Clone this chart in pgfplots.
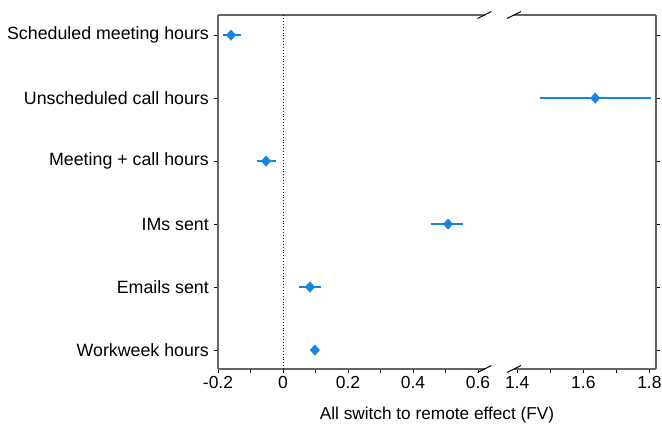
\documentclass[border=0pt]{standalone}
\usepackage{pgfplots}
\pgfplotsset{compat=1.18}
\usepackage{fontspec}
\setmainfont{Liberation Sans}
\definecolor{ptblue}{RGB}{18,134,226}
\definecolor{axgrey}{RGB}{100,100,100}
\begin{document}
\fontsize{17.3}{20}\selectfont
\begin{tikzpicture}
\pgfplotsset{
 common/.style={
  scale only axis, height=354bp, ymin=-0.3, ymax=5.32,
  tick align=outside, major tick length=4bp, minor tick length=4bp,
  every tick/.style={black, line width=0.8bp},
  axis line style={axgrey, line width=1.3bp},
  axis x line=box,
  ytick={0,...,5},
  xtick pos=bottom,
  /pgf/number format/assume math mode=true,
  /pgf/number format/fixed,
  tick label style={font=\fontsize{17.5}{20}\selectfont},
  xticklabel style={inner sep=2bp, yshift=-1.5bp},
  clip=false,
 },
 myplot/.style={
    only marks, mark=diamond*, mark size=5.2bp,
    mark options={fill=ptblue, draw=ptblue, xscale=1.2},
    /pgfplots/error bars/x dir=both,
    /pgfplots/error bars/x explicit,
    /pgfplots/error bars/error mark=none,
    /pgfplots/error bars/error bar style={line width=2bp, ptblue},
 },
}
\begin{axis}[common,
  at={(0,0)}, anchor=south west,
  width=266.5bp, xmin=-0.2, xmax=0.62,
  axis y line*=left,
  xtick={-0.2,0,0.2,0.4,0.6},
  minor xtick={-0.1,0.1,0.3,0.5},
  yticklabels={Workweek hours, Emails sent, IMs sent, Meeting + call hours, Unscheduled call hours, Scheduled meeting hours},
  yticklabel style={inner sep=5bp, font=\fontsize{17.85}{20}\selectfont},
]
\draw[black, dotted, line width=0.9bp] (axis cs:0,-0.3) -- (axis cs:0,5.32);
\addplot[myplot] table[x=x, y=y, x error plus=ep, x error minus=em] {
x      y  ep     em
-0.160 5  0.030  0.025
-0.052 3  0.030  0.028
0.508  2  0.046  0.053
0.083  1  0.034  0.034
0.098  0  0.000  0.000
};
\draw[black, line width=1bp] (rel axis cs:1,1) ++(-7bp,-3.5bp) -- ++(14bp,7bp);
\draw[black, line width=1bp] (rel axis cs:1,0) ++(-7bp,-3.5bp) -- ++(14bp,7bp);
\end{axis}
\begin{axis}[common,
  at={(296bp,0)}, anchor=south west,
  width=142bp, xmin=1.39, xmax=1.82,
  axis y line*=right,
  xtick={1.4,1.6,1.8},
  minor xtick={1.5,1.7},
  yticklabels={},
]
\addplot[myplot] table[x=x, y=y, x error plus=ep, x error minus=em] {
x      y  ep     em
1.636  4  0.170  0.166
};
\draw[black, line width=1bp] (rel axis cs:0,1) ++(-7bp,-3.5bp) -- ++(14bp,7bp);
\draw[black, line width=1bp] (rel axis cs:0,0) ++(-7bp,-3.5bp) -- ++(14bp,7bp);
\end{axis}
\node at (219bp,-46bp) {All switch to remote effect (FV)};
\pgfresetboundingbox
\path[use as bounding box] (-218bp,-56bp) rectangle (444bp,369bp);
\end{tikzpicture}
\end{document}
